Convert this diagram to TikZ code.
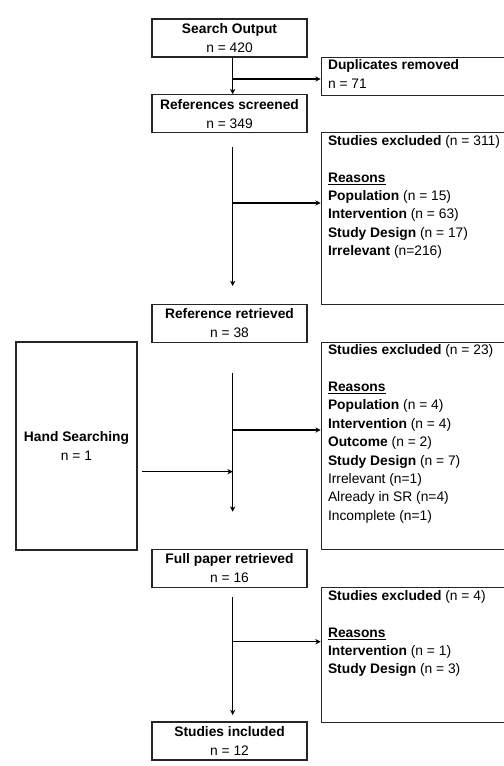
\documentclass[tikz,border=0pt]{standalone}
\usepackage{fontspec}
\setmainfont{Liberation Sans}
\usetikzlibrary{positioning,arrows.meta}

\tikzset{
  stage/.style={draw=black!85, line width=0.8pt, minimum width=116.25pt, minimum height=28.5pt,
    inner sep=0pt, align=center, font=\fontsize{10.35}{14.25}\selectfont},
  exbox/.style={draw=black!85, line width=0.8pt, anchor=north west, minimum width=139pt, inner sep=0pt},
  extext/.style={anchor=north west, align=left, inner sep=0pt, font=\fontsize{10.35}{13.8}\selectfont},
  flow/.style={line width=1.1pt, -{Stealth[length=4pt,width=4pt]}},
}

\begin{document}
\begin{tikzpicture}[x=0.75pt,y=-0.75pt]
            \useasboundingbox (0,0) rectangle (503,766);

            % main column
            \node[stage] (so) at (229.5,38){\textbf{Search Output}\\n = 420};
            \node[stage] (rs) at (229.5,113.7){\textbf{References screened}\\n = 349};
            \node[stage] (rr) at (229.5,323.5){\textbf{Reference retrieved}\\n = 38};
            \node[stage] (fp) at (229.5,568.5){\textbf{Full paper retrieved}\\n = 16};
            \node[stage] (si) at (229.5,741){\textbf{Studies included}\\n = 12};
            \node[stage, minimum width=90.75pt, minimum height=156pt] (hs) at (76.5,446){\textbf{Hand Searching}\\n = 1};

            % exclusion boxes
            \node[exbox, minimum height=28.7pt] (dup) at (320.7,56.7){};
            \node[exbox, minimum height=129pt] (ex1) at (320.7,132.3){};
            \node[exbox, minimum height=155.7pt] (ex2) at (320.7,341.7){};
            \node[exbox, minimum height=101.25pt] (ex3) at (320.7,587.3){};

            \node[extext] (duptxt) at ([shift={(5.3pt,-2pt)}]dup.north west){\textbf{Duplicates removed}\\n = 71};
            \node[extext] (ex1txt) at ([shift={(5.3pt,-2pt)}]ex1.north west){\textbf{Studies excluded} (n = 311)\\[13.8pt]
                \textbf{\underline{Reasons}}\\
                \textbf{Population} (n = 15)\\
                \textbf{Intervention} (n = 63)\\
                \textbf{Study Design} (n = 17)\\
                \textbf{Irrelevant} (n=216)};
            \node[extext] (ex2txt) at ([shift={(5.3pt,-2pt)}]ex2.north west){\textbf{Studies excluded} (n = 23)\\[13.8pt]
                \textbf{\underline{Reasons}}\\
                \textbf{Population} (n = 4)\\
                \textbf{Intervention} (n = 4)\\
                \textbf{Outcome} (n = 2)\\
                \textbf{Study Design} (n = 7)\\
                Irrelevant (n=1)\\
                Already in SR (n=4)\\
                Incomplete (n=1)};
            \node[extext] (ex3txt) at ([shift={(5.3pt,-2pt)}]ex3.north west){\textbf{Studies excluded} (n = 4)\\[13.8pt]
                \textbf{\underline{Reasons}}\\
                \textbf{Intervention} (n = 1)\\
                \textbf{Study Design} (n = 3)};

            % spine points
            \coordinate (spine) at (232.7,0);
            \coordinate (b1) at (232.7,79);
            \coordinate (s1) at (232.7,147);
            \coordinate (e1) at (232.7,286);
            \coordinate (b2) at (232.7,203);
            \coordinate (s2) at (232.7,372.7);
            \coordinate (e2) at (232.7,511.7);
            \coordinate (b3) at (232.7,430);
            \coordinate (h1) at (142,471.7);
            \coordinate (s3) at (232.7,597.3);
            \coordinate (e3) at (232.7,715);
            \coordinate (b4) at (232.7,641.7);

            \draw[flow] (so.south -| spine) -- (rs.north -| spine);
            \draw[flow] (b1) -- (b1 -| dup.west);
            \draw[flow] (s1) -- (e1);
            \draw[flow] (b2) -- (b2 -| ex1.west);
            \draw[flow] (s2) -- (e2);
            \draw[flow] (b3) -- (b3 -| ex2.west);
            \draw[flow] (h1) -- (h1 -| spine);
            \draw[flow] (s3) -- (e3);
            \draw[flow] (b4) -- (b4 -| ex3.west);
        \end{tikzpicture}
\end{document}
